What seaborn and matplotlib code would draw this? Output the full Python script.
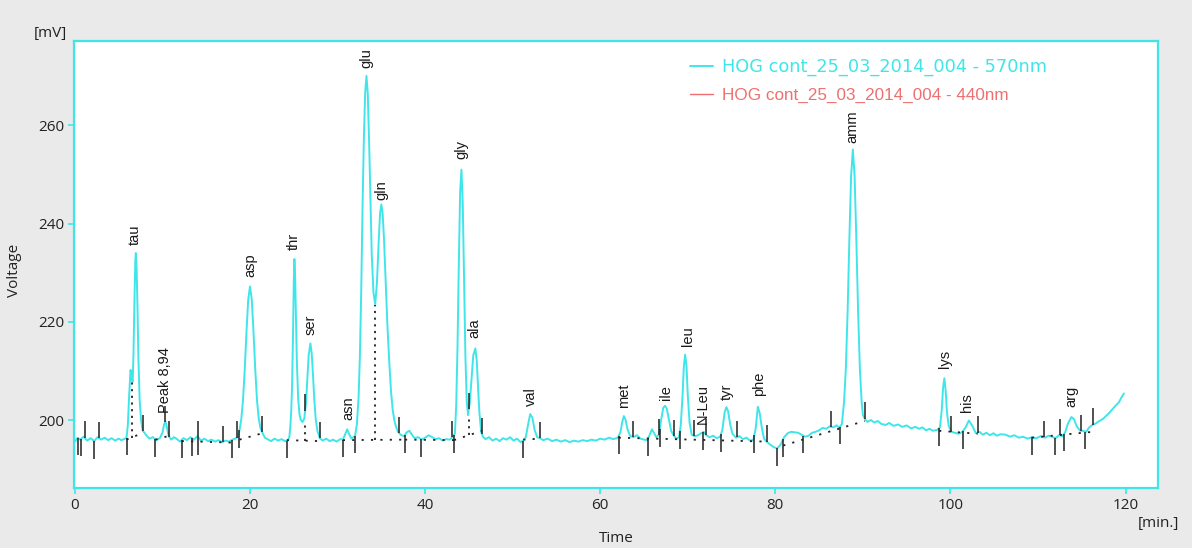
import numpy as np
import pandas as pd
import matplotlib
matplotlib.use("Agg")
import matplotlib.pyplot as plt
import seaborn as sns
from matplotlib.lines import Line2D

# ---------------- data ----------------
time_min = [
    0.0, 0.3, 0.6, 1.0, 1.4, 1.8, 2.2, 2.6, 3.0, 3.4, 3.8, 4.2, 4.6, 5.0, 5.3, 5.6,
    5.9, 6.05, 6.2, 6.36, 6.5, 6.6, 6.7, 6.8, 6.9, 6.96, 7.05, 7.15, 7.25, 7.4, 7.57,
    7.75, 7.95, 8.2, 8.5, 8.9, 9.3, 9.7, 10.0, 10.2, 10.35, 10.5, 10.7, 11.0, 11.3,
    11.6, 12.0, 12.4, 12.8, 13.2, 13.6, 14.0, 14.4, 14.8, 15.2, 15.6, 16.0, 16.4,
    16.8, 17.2, 17.6, 18.0, 18.3, 18.65, 18.8, 19.0, 19.2, 19.4, 19.6, 19.8, 20.0,
    20.2, 20.4, 20.6, 20.8, 21.0, 21.2, 21.45, 21.7, 22.0, 22.4, 22.8, 23.2, 23.6,
    24.0, 24.35, 24.5, 24.6, 24.7, 24.8, 24.9, 25.0, 25.07, 25.15, 25.25, 25.35,
    25.5, 25.65, 25.8, 26.0, 26.2, 26.4, 26.55, 26.7, 26.9, 27.05, 27.2, 27.35,
    27.5, 27.7, 27.97, 28.3, 28.7, 29.1, 29.5, 29.9, 30.3, 30.6, 30.85, 31.1, 31.35,
    31.6, 31.9, 32.0, 32.2, 32.4, 32.55, 32.7, 32.85, 33.0, 33.15, 33.3, 33.45,
    33.6, 33.75, 33.9, 34.1, 34.3, 34.5, 34.7, 34.85, 35.0, 35.15, 35.3, 35.5,
    35.7, 35.9, 36.1, 36.3, 36.5, 36.7, 36.9, 37.2, 37.6, 37.9, 38.2, 38.5, 38.8,
    39.2, 39.6, 40.0, 40.4, 40.8, 41.2, 41.6, 42.0, 42.4, 42.8, 43.2, 43.4, 43.55,
    43.7, 43.85, 44.0, 44.15, 44.3, 44.45, 44.6, 44.75, 44.9, 45.1, 45.3, 45.5,
    45.74, 45.9, 46.05, 46.2, 46.4, 46.6, 46.9, 47.3, 47.7, 48.1, 48.5, 48.9, 49.3,
    49.7, 50.1, 50.5, 50.9, 51.2, 51.5, 51.75, 52.0, 52.25, 52.5, 52.8, 53.1, 53.5,
    54.0, 54.5, 55.0, 55.5, 56.0, 56.5, 57.0, 57.5, 58.0, 58.5, 59.0, 59.5, 60.0,
    60.5, 61.0, 61.5, 62.0, 62.3, 62.5, 62.7, 62.9, 63.1, 63.4, 63.8, 64.2, 64.6,
    65.0, 65.4, 65.7, 65.9, 66.1, 66.4, 66.7, 66.95, 67.2, 67.4, 67.6, 67.85, 68.1,
    68.4, 68.7, 69.0, 69.2, 69.4, 69.55, 69.7, 69.85, 70.0, 70.2, 70.45, 70.8, 71.2,
    71.5, 71.8, 72.1, 72.5, 72.9, 73.3, 73.7, 73.95, 74.2, 74.4, 74.6, 74.85, 75.1,
    75.5, 75.9, 76.3, 76.7, 77.1, 77.5, 77.75, 78.0, 78.2, 78.45, 78.7, 79.0, 79.4,
    79.8, 80.2, 80.6, 81.0, 81.4, 81.8, 82.2, 82.6, 83.0, 83.4, 83.8, 84.2, 84.6,
    85.0, 85.4, 85.8, 86.2, 86.6, 87.0, 87.3, 87.6, 87.85, 88.05, 88.25, 88.45,
    88.65, 88.85, 89.05, 89.25, 89.45, 89.65, 89.85, 90.0, 90.2, 90.5, 90.9, 91.3,
    91.7, 92.1, 92.6, 93.0, 93.5, 94.0, 94.5, 95.0, 95.5, 96.0, 96.4, 96.8, 97.2,
    97.6, 98.0, 98.5, 98.8, 99.0, 99.15, 99.3, 99.45, 99.6, 99.8, 100.1, 100.5,
    100.9, 101.3, 101.7, 102.1, 102.5, 102.9, 103.3, 103.7, 104.1, 104.5, 104.9,
    105.3, 105.7, 106.3, 106.8, 107.3, 107.8, 108.3, 108.8, 109.3, 109.8, 110.3,
    110.8, 111.2, 111.6, 112.0, 112.4, 112.8, 113.1, 113.4, 113.8, 114.1, 114.4,
    114.8, 115.1, 115.5, 115.8, 116.2, 116.6, 117.0, 117.4, 117.8, 118.1, 118.5,
    118.9, 119.2, 119.5, 119.8,
]
signal_mv = [
    195.6, 196.4, 196.0, 196.6, 195.8, 196.3, 195.7, 196.5, 196.0, 196.4, 195.9, 196.3, 195.8, 196.2, 195.9, 196.1,
    196.4, 199.0, 205.0, 210.2, 208.2, 207.8, 214.0, 224.0, 232.3, 234.0, 231.0, 223.0, 213.0, 204.0, 199.8,
    197.8, 197.4, 196.8, 196.2, 196.5, 195.9, 196.3, 197.4, 199.2, 199.7, 198.6, 196.8, 196.0, 196.5,
    196.2, 195.6, 196.3, 195.9, 196.5, 196.0, 196.7, 195.8, 196.2, 195.7, 196.0, 195.6, 195.9,
    195.5, 195.8, 195.6, 196.0, 196.2, 196.6, 197.9, 200.1, 204.0, 210.3, 218.0, 224.6, 227.2,
    224.6, 218.0, 210.3, 204.0, 200.3, 198.3, 197.3, 196.4, 196.1, 195.7, 196.2, 195.8, 196.1,
    195.7, 195.9, 196.6, 198.6, 201.5, 206.5, 216.0, 228.0, 232.8, 229.5, 221.0, 212.0,
    204.5, 201.2, 200.0, 199.6, 200.3, 203.5, 208.5, 213.2, 215.6, 213.5, 209.0, 204.0,
    200.3, 197.8, 196.3, 195.8, 196.2, 195.7, 196.0, 195.6, 196.1, 196.0, 197.0, 198.1, 197.0,
    196.2, 196.6, 196.8, 199.0, 204.5, 213.0, 226.0, 243.0, 257.0, 266.5, 270.1, 266.5,
    257.0, 245.0, 234.0, 226.0, 223.5, 228.0, 236.5, 242.0, 243.9, 242.0, 237.0, 228.0,
    219.0, 212.0, 206.0, 202.0, 199.8, 198.5, 197.6, 197.0, 196.7, 197.5, 197.8, 197.0, 196.3,
    196.5, 196.0, 196.4, 196.9, 196.5, 196.1, 196.3, 195.8, 196.1, 196.0, 196.6, 197.3, 203.0,
    215.0, 232.0, 246.5, 251.0, 244.0, 229.0, 213.0, 204.0, 201.0, 203.5, 208.5, 213.2,
    214.6, 212.0, 206.5, 201.5, 197.6, 196.6, 196.1, 196.5, 195.8, 196.2, 195.7, 196.3, 196.0,
    196.5, 195.8, 196.2, 195.5, 195.8, 196.5, 199.0, 201.2, 200.5, 198.0, 196.5, 196.3, 195.9,
    196.2, 195.7, 196.0, 195.6, 195.9, 195.5, 195.8, 195.6, 195.9, 195.7, 196.0, 195.8, 196.2,
    196.0, 196.4, 196.1, 196.4, 197.5, 199.5, 200.8, 200.0, 198.2, 196.8, 196.5, 196.9, 196.2,
    196.0, 195.9, 197.2, 198.1, 197.5, 196.5, 197.0, 200.0, 202.5, 202.9, 202.3, 200.0, 197.8,
    196.8, 196.2, 196.5, 199.0, 205.0, 211.0, 213.3, 211.0, 205.0, 199.5, 197.0, 196.7, 196.9,
    197.3, 197.6, 196.9, 196.5, 196.8, 196.3, 196.6, 198.0, 201.5, 202.6, 201.8, 199.0, 197.2,
    196.4, 196.7, 196.1, 196.4, 195.8, 196.0, 198.2, 202.7, 201.5, 198.5, 196.2, 195.6, 195.0,
    194.5, 194.2, 195.0, 196.5, 197.3, 197.6, 197.5, 197.4, 197.0, 196.6, 196.8, 197.4, 197.6,
    197.9, 198.4, 198.2, 198.7, 198.5, 198.9, 198.4, 199.2, 203.8, 210.5, 222.0, 236.7,
    249.7, 255.1, 249.7, 236.7, 222.0, 210.5, 203.8, 201.0, 200.3, 199.6, 200.0, 199.5,
    199.8, 199.2, 199.0, 199.4, 198.8, 199.1, 198.6, 198.9, 198.3, 198.6, 198.2, 198.5, 197.9,
    198.2, 197.8, 198.0, 198.5, 202.0, 206.5, 208.5, 206.0, 201.5, 198.8, 197.6, 197.4,
    197.2, 197.5, 198.4, 199.9, 198.8, 197.3, 197.6, 197.0, 197.4, 196.9, 197.3,
    196.8, 197.1, 197.0, 196.6, 196.9, 196.4, 196.6, 196.2, 196.5, 196.3, 196.7,
    196.4, 196.8, 196.6, 196.3, 196.9, 196.7, 197.5, 199.2, 200.6, 200.2, 198.8,
    197.8, 197.8, 197.6, 198.4, 199.0, 199.3, 199.8, 200.2, 200.9, 201.4, 202.2,
    203.0, 203.5, 204.5, 205.4,
]

peak_names = ["tau", "Peak 8,94", "asp", "thr", "ser", "asn", "glu", "gln", "gly",
              "ala", "val", "met", "ile", "leu", "N-Leu", "tyr", "phe", "amm",
              "lys", "his", "arg"]
label_t = [6.85, 10.27, 20.0, 25.0, 26.9, 31.2, 33.3, 35.0, 44.1,
           45.6, 52.1, 62.7, 67.5, 70.0, 71.7, 74.5, 78.1, 88.85,
           99.4, 101.9, 113.8]
label_mv = [235.7, 201.4, 229.2, 234.6, 217.3, 200.1, 271.8, 244.9, 253.1,
            216.7, 202.9, 202.4, 204.1, 215.1, 199.2, 204.1, 204.8, 256.5,
            210.6, 201.7, 202.7]

# integration marks (peak start/end)
mark_down_t = [0.31, 0.74, 2.2, 5.9, 9.2, 12.2, 13.4, 14.1, 17.9, 18.8, 24.2, 30.6,
               32.0, 37.7, 39.5, 43.3, 51.2, 62.1, 65.5, 66.8, 69.1, 71.7, 73.8,
               77.6, 80.2, 80.9, 83.2, 87.4, 98.7, 101.4, 109.3, 111.9, 113.0, 115.4]
mark_up_t = [1.1, 2.8, 7.8, 10.3, 10.8, 14.1, 16.9, 18.5, 21.4, 26.3, 28.0, 37.0,
             43.1, 45.0, 46.5, 53.1, 63.7, 66.7, 68.4, 70.7, 72.1, 75.6, 79.0, 86.4,
             90.2, 100.1, 103.1, 110.7, 112.5, 114.9, 116.3]

# dotted integration baselines
base_t0 = [5.9, 9.2, 12.2, 18.8, 24.2, 30.6, 37.7, 43.3, 51.2, 62.1, 80.9, 98.7, 109.3]
base_v0 = [196.0, 196.0, 195.7, 196.0, 195.9, 195.9, 196.0, 195.9, 196.0, 196.4, 194.8, 197.8, 196.4]
base_t1 = [7.8, 10.8, 17.9, 21.4, 28.0, 37.7, 43.3, 46.5, 53.1, 79.0, 90.2, 103.1, 116.3]
base_v1 = [197.4, 196.8, 195.4, 197.3, 195.7, 196.0, 195.9, 197.8, 196.2, 195.6, 199.8, 197.2, 197.6]
drop_t = [6.5, 26.3, 34.3, 45.0]
drop_lo = [196.4, 195.8, 195.9, 197.0]
drop_hi = [208.0, 199.6, 223.5, 201.0]

legend_labels = ["HOG cont_25_03_2014_004 - 570nm", "HOG cont_25_03_2014_004 - 440nm"]
x_ticks = [0, 20, 40, 60, 80, 100, 120]
y_ticks = [200, 220, 240, 260]

# ---------------- style ----------------
CYAN = "#3ee6ea"
RED = "#ee7070"
BG = "#eaeaea"

sns.set_theme(style="white")
plt.rcParams["font.family"] = ["Open Sans", "DejaVu Sans"]

fig = plt.figure(figsize=(11.92, 5.48), dpi=100, facecolor=BG)
ax = fig.add_axes([74 / 1192, 1 - 488 / 548, (1158 - 74) / 1192, (488 - 41) / 548])
ax.set_facecolor("white")

df = pd.DataFrame({"Time": time_min, "Voltage": signal_mv})
sns.lineplot(data=df, x="Time", y="Voltage", ax=ax, color=CYAN, lw=1.4,
             sort=False, estimator=None, label=legend_labels[0], legend=False)

# integration baselines
for t0, v0, t1, v1 in zip(base_t0, base_v0, base_t1, base_v1):
    ax.plot([t0, t1], [v0, v1], color="#222222", lw=1.3, ls=(0, (1.2, 4)))
for t, lo, hi in zip(drop_t, drop_lo, drop_hi):
    ax.plot([t, t], [lo, hi], color="#222222", lw=1.3, ls=(0, (1.2, 2.5)))

t_arr = np.asarray(time_min)
s_arr = np.asarray(signal_mv)
yd = np.interp(mark_down_t, t_arr, s_arr)
yu = np.interp(mark_up_t, t_arr, s_arr)
ax.vlines(mark_down_t, yd - 3.6, yd, color="#222222", lw=1.1)
ax.vlines(mark_up_t, yu, yu + 3.3, color="#222222", lw=1.1)

# peak labels
for name, t, v in zip(peak_names, label_t, label_mv):
    ax.text(t, v, name, rotation=90, ha="center", va="bottom", fontsize=10.5,
            family=["Liberation Sans", "DejaVu Sans"], color="#1a1a1a")

ax.set_xlim(-0.1, 123.7)
ax.set_ylim(186.15, 277.2)
ax.set_xticks(x_ticks)
ax.set_yticks(y_ticks)
ax.set_xlabel("")
ax.set_ylabel("")
for sp in ax.spines.values():
    sp.set_color(CYAN)
    sp.set_linewidth(1.6)
ax.tick_params(axis="both", which="major", direction="out", length=4, width=1.2,
               color=CYAN, labelsize=11, labelcolor="#222222", pad=3,
               bottom=True, left=True)
ax.grid(False)

# legend
handles = [ax.lines[0], Line2D([], [], color=RED, lw=1.0)]
leg = ax.legend(handles=handles, labels=legend_labels, loc="upper left",
                bbox_to_anchor=(690 / 1192, 1 - 58 / 548), bbox_transform=fig.transFigure,
                frameon=False, fontsize=12, handlelength=1.4, handletextpad=0.55,
                labelspacing=0.72, borderpad=0, borderaxespad=0)
t0, t1 = leg.get_texts()
t0.set_color(CYAN)
t0.set_fontfamily(["DejaVu Sans"])
t0.set_fontsize(12.8)
t1.set_color(RED)
t1.set_fontfamily(["Liberation Sans", "DejaVu Sans"])
t1.set_fontsize(12.3)

# axis captions
fig.text(50 / 1192, 1 - 34 / 548, "[mV]", ha="center", va="center", fontsize=11, color="#222222")
fig.text(15 / 1192, 1 - 270 / 548, "Voltage", ha="center", va="center", rotation=90,
         fontsize=11, color="#222222")
fig.text(616 / 1192, 1 - 538 / 548, "Time", ha="center", va="center", fontsize=11, color="#222222")
fig.text(1158 / 1192, 1 - 523 / 548, "[min.]", ha="center", va="center", fontsize=11, color="#222222")

fig.savefig("out.png", dpi=100, facecolor=BG)
